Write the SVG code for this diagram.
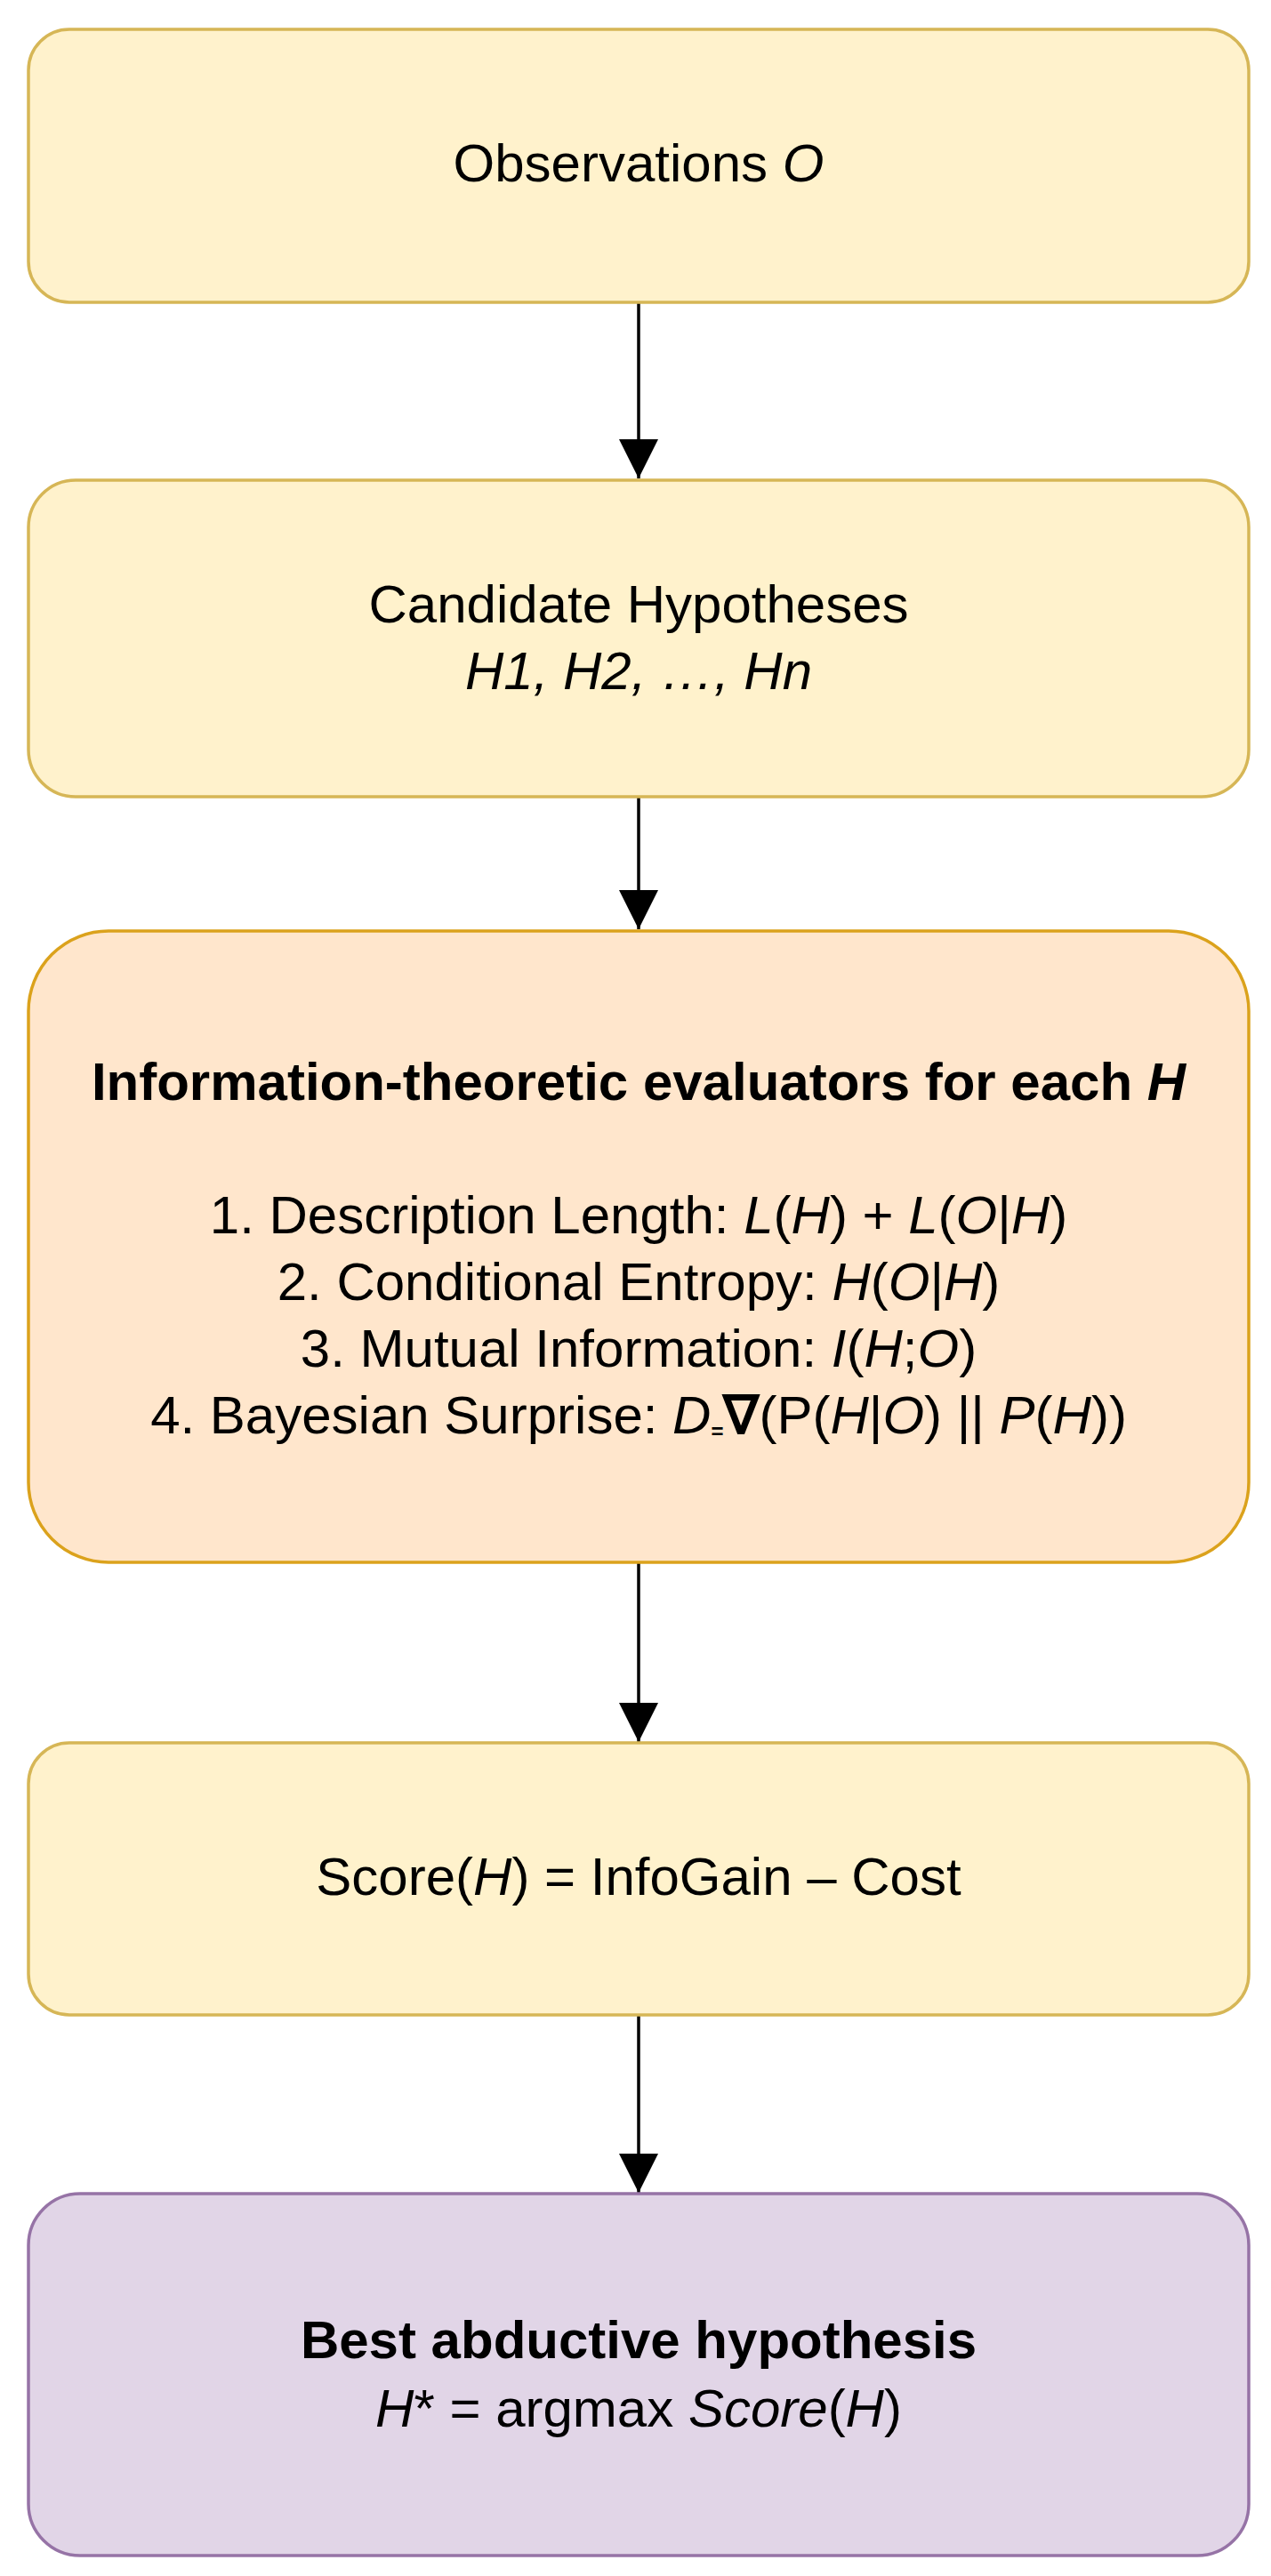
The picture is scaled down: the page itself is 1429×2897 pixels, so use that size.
<svg xmlns="http://www.w3.org/2000/svg" width="1429" height="2897" viewBox="0 0 1429 2897">
<defs>
<style>
.t{font-family:"Liberation Sans",Arial,sans-serif;font-size:60px;fill:#000;text-anchor:middle}
.i{font-style:italic}
.b{font-weight:bold}
.y{fill:#fff2cc;stroke:#d6b656;stroke-width:3.5}
.o{fill:#ffe6cc;stroke:#dba21c;stroke-width:3.5}
.p{fill:#e1d5e7;stroke:#9673a6;stroke-width:3.5}
.e{stroke:#000;stroke-width:3.5;fill:none}
</style>
<marker id="ah" markerUnits="userSpaceOnUse" markerWidth="46" markerHeight="46" refX="44" refY="22" orient="auto" viewBox="0 0 46 46">
<path d="M0,0 L44,22 L0,44 Z" fill="#000"/>
</marker>
</defs>
<rect width="1429" height="2897" fill="#ffffff"/>
<g id="connectors">
<line class="e" x1="718" y1="340" x2="718" y2="538" marker-end="url(#ah)"/>
<line class="e" x1="718" y1="896" x2="718" y2="1045" marker-end="url(#ah)"/>
<line class="e" x1="718" y1="1757" x2="718" y2="1959" marker-end="url(#ah)"/>
<line class="e" x1="718" y1="2266" x2="718" y2="2466" marker-end="url(#ah)"/>
</g>
<g id="observations">
<rect class="y" x="32" y="33" width="1372" height="307" rx="46" ry="46"/>
<text class="t" x="718" y="204">Observations <tspan class="i">O</tspan></text>
</g>
<g id="candidates">
<rect class="y" x="32" y="540" width="1372" height="356" rx="53" ry="53"/>
<text class="t" x="718" y="700">Candidate Hypotheses</text>
<text class="t i" x="718" y="775">H1, H2, …, Hn</text>
</g>
<g id="evaluators">
<rect class="o" x="32" y="1047" width="1372" height="710" rx="90" ry="90"/>
<text class="t b" x="718" y="1237">Information-theoretic evaluators for each <tspan class="i">H</tspan></text>
<text class="t" x="718" y="1387">1. Description Length: <tspan class="i">L</tspan>(<tspan class="i">H</tspan>) + <tspan class="i">L</tspan>(<tspan class="i">O</tspan>|<tspan class="i">H</tspan>)</text>
<text class="t" x="718" y="1462">2. Conditional Entropy: <tspan class="i">H</tspan>(<tspan class="i">O</tspan>|<tspan class="i">H</tspan>)</text>
<text class="t" x="718" y="1537">3. Mutual Information: <tspan class="i">I</tspan>(<tspan class="i">H</tspan>;<tspan class="i">O</tspan>)</text>
<text class="t" x="718" y="1612">4. Bayesian Surprise: <tspan class="i">D</tspan><tspan class="b" font-size="24" dy="6">=</tspan><tspan class="b" dy="-6">∇</tspan>(P(<tspan class="i">H</tspan>|<tspan class="i">O</tspan>) || <tspan class="i">P</tspan>(<tspan class="i">H</tspan>))</text>
</g>
<g id="score">
<rect class="y" x="32" y="1960" width="1372" height="306" rx="46" ry="46"/>
<text class="t" x="718" y="2131">Score(<tspan class="i">H</tspan>) = InfoGain – Cost</text>
</g>
<g id="best">
<rect class="p" x="32" y="2467" width="1372" height="407" rx="58" ry="58"/>
<text class="t b" x="718" y="2652">Best abductive hypothesis</text>
<text class="t" x="718" y="2729"><tspan class="i">H</tspan>* = argmax <tspan class="i">Score</tspan>(<tspan class="i">H</tspan>)</text>
</g>
</svg>
